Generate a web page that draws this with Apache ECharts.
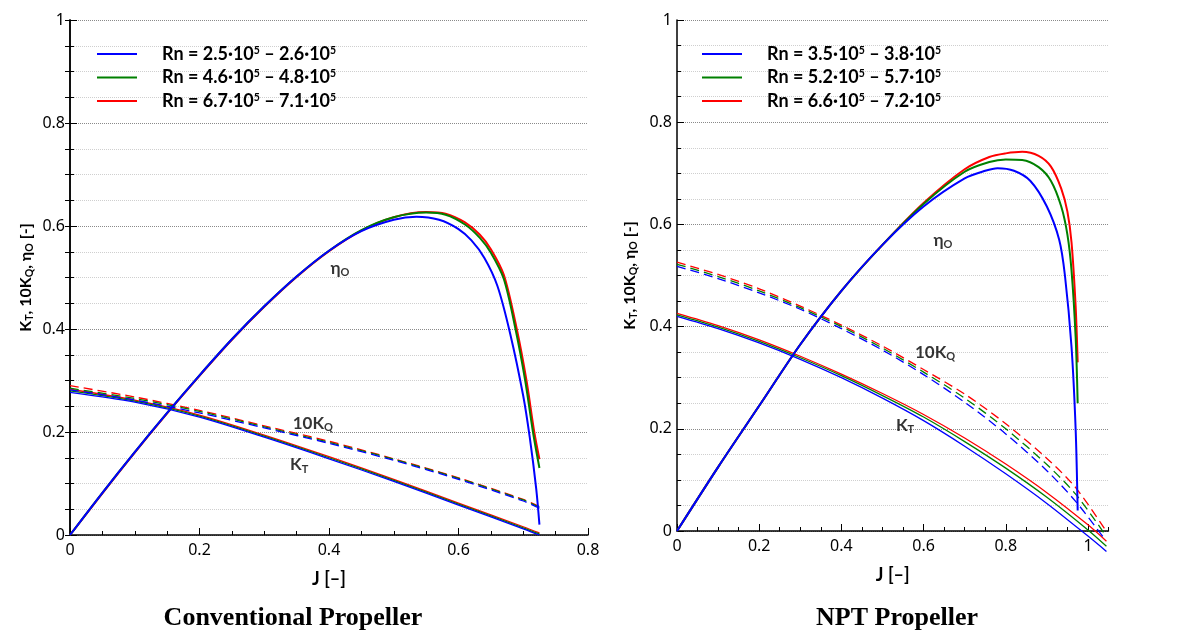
<!DOCTYPE html>
<html><head><meta charset="utf-8">
<script src="https://cdn.jsdelivr.net/npm/echarts@6/dist/echarts.min.js"></script>
<style>html,body{margin:0;padding:0;background:#fff}#c{width:1182px;height:632px}</style>
</head><body><div id="c"></div>
<script>
// ---------- DATA ----------
const colors = ['#ff0000', '#008000', '#0000ff']; // red, green, blue (blue drawn on top)

// Conventional propeller
const convNames = ['Rn = 6.7·10^5 – 7.1·10^5', 'Rn = 4.6·10^5 – 4.8·10^5', 'Rn = 2.5·10^5 – 2.6·10^5'];
const convLegendOrder = ['Rn = 2.5·10^5 – 2.6·10^5', 'Rn = 4.6·10^5 – 4.8·10^5', 'Rn = 6.7·10^5 – 7.1·10^5'];
const convJ = [0, 0.1, 0.2, 0.3, 0.4, 0.5, 0.6, 0.7, 0.725];
const convKT_red   = [0.283, 0.262, 0.233, 0.194, 0.152, 0.108, 0.062, 0.016, 0.004];
const convKT_green = [0.280, 0.260, 0.231, 0.192, 0.150, 0.106, 0.060, 0.014, 0.002];
const convKT_blue  = [0.277, 0.258, 0.229, 0.190, 0.148, 0.104, 0.058, 0.012, 0.000];
const convKQ_red   = [0.290, 0.268, 0.242, 0.212, 0.182, 0.148, 0.111, 0.069, 0.055];
const convKQ_green = [0.285, 0.265, 0.240, 0.210, 0.180, 0.147, 0.110, 0.068, 0.054];
const convKQ_blue  = [0.282, 0.262, 0.237, 0.208, 0.178, 0.145, 0.108, 0.066, 0.052];
const convEtaJ_red   = [0, 0.05, 0.1, 0.15, 0.2, 0.25, 0.3, 0.35, 0.4, 0.45, 0.5, 0.55, 0.58, 0.61, 0.633, 0.65, 0.67, 0.69, 0.705, 0.717, 0.725];
const convEta_red    = [0, 0.081, 0.160, 0.236, 0.309, 0.379, 0.443, 0.501, 0.551, 0.591, 0.617, 0.627, 0.624, 0.607, 0.583, 0.555, 0.505, 0.40, 0.30, 0.20, 0.147];
const convEtaJ_green = [0, 0.05, 0.1, 0.15, 0.2, 0.25, 0.3, 0.35, 0.4, 0.45, 0.5, 0.55, 0.58, 0.61, 0.633, 0.65, 0.67, 0.688, 0.703, 0.715, 0.725];
const convEta_green  = [0, 0.082, 0.161, 0.237, 0.310, 0.380, 0.444, 0.502, 0.552, 0.592, 0.617, 0.626, 0.622, 0.603, 0.577, 0.548, 0.497, 0.40, 0.30, 0.20, 0.13];
const convEtaJ_blue  = [0, 0.05, 0.1, 0.15, 0.2, 0.25, 0.3, 0.35, 0.4, 0.45, 0.5, 0.535, 0.57, 0.6, 0.62, 0.64, 0.66, 0.68, 0.70, 0.71, 0.72, 0.725];
const convEta_blue   = [0, 0.082, 0.161, 0.237, 0.310, 0.380, 0.444, 0.502, 0.552, 0.590, 0.612, 0.618, 0.612, 0.594, 0.572, 0.538, 0.484, 0.39, 0.27, 0.19, 0.09, 0.02];

// NPT propeller
const nptNames = ['Rn = 6.6·10^5 – 7.2·10^5', 'Rn = 5.2·10^5 – 5.7·10^5', 'Rn = 3.5·10^5 – 3.8·10^5'];
const nptLegendOrder = ['Rn = 3.5·10^5 – 3.8·10^5', 'Rn = 5.2·10^5 – 5.7·10^5', 'Rn = 6.6·10^5 – 7.2·10^5'];
const nptKTJ = [0, 0.1, 0.2, 0.3, 0.4, 0.5, 0.6, 0.7, 0.8, 0.9, 1.0, 1.045];
const nptKT_red   = [0.426, 0.402, 0.374, 0.342, 0.307, 0.269, 0.228, 0.182, 0.131, 0.075, 0.012, -0.02];
const nptKT_green = [0.423, 0.399, 0.371, 0.339, 0.304, 0.265, 0.223, 0.175, 0.123, 0.066, 0.002, -0.03];
const nptKT_blue  = [0.420, 0.396, 0.368, 0.336, 0.300, 0.260, 0.216, 0.166, 0.112, 0.054, -0.010, -0.04];
const nptKQJ = [0, 0.1, 0.2, 0.3, 0.4, 0.5, 0.6, 0.7, 0.8, 0.9, 0.97, 1.04];
const nptKQ_red   = [0.526, 0.502, 0.474, 0.440, 0.403, 0.362, 0.316, 0.268, 0.210, 0.142, 0.085, 0.005];
const nptKQ_green = [0.522, 0.498, 0.470, 0.437, 0.400, 0.358, 0.311, 0.260, 0.200, 0.130, 0.072, -0.005];
const nptKQ_blue  = [0.518, 0.494, 0.466, 0.434, 0.396, 0.354, 0.306, 0.252, 0.190, 0.118, 0.058, -0.015];
const nptEtaJ_red   = [0, 0.1, 0.2, 0.3, 0.4, 0.5, 0.6, 0.7, 0.76, 0.8, 0.84, 0.88, 0.91, 0.935, 0.95, 0.96, 0.97, 0.975];
const nptEta_red    = [0, 0.125, 0.245, 0.365, 0.47, 0.56, 0.642, 0.708, 0.732, 0.739, 0.742, 0.734, 0.713, 0.67, 0.625, 0.565, 0.44, 0.33];
const nptEtaJ_green = [0, 0.1, 0.2, 0.3, 0.4, 0.5, 0.6, 0.7, 0.76, 0.8, 0.84, 0.88, 0.91, 0.935, 0.95, 0.96, 0.97, 0.975];
const nptEta_green  = [0, 0.125, 0.245, 0.365, 0.47, 0.56, 0.640, 0.703, 0.722, 0.727, 0.726, 0.712, 0.685, 0.635, 0.58, 0.51, 0.38, 0.25];
const nptEtaJ_blue  = [0, 0.1, 0.2, 0.3, 0.4, 0.5, 0.6, 0.7, 0.75, 0.78, 0.82, 0.86, 0.9, 0.93, 0.944, 0.96, 0.97, 0.975];
const nptEta_blue   = [0, 0.125, 0.245, 0.365, 0.47, 0.56, 0.635, 0.69, 0.705, 0.71, 0.705, 0.685, 0.635, 0.57, 0.50, 0.36, 0.20, 0.04];

// Axis ticks
const xMajorConv = [0, 0.2, 0.4, 0.6, 0.8];
const xMajorNpt = [0, 0.2, 0.4, 0.6, 0.8, 1];
const xMaxConv = 0.8, xMaxNpt = 1.05;

// Curve annotations [J, value]
const convAnnoText = ['eta', 'kq', 'kt'];
const convAnnoJ = [0.417, 0.375, 0.354];
const convAnnoV = [0.518, 0.217, 0.136];
const nptAnnoText = ['eta', 'kq', 'kt'];
const nptAnnoJ = [0.647, 0.628, 0.555];
const nptAnnoV = [0.569, 0.350, 0.207];

// ---------- CHART ----------
const sans = '"Noto Sans", "DejaVu Sans", sans-serif';
const bold = 'Lato, "Noto Sans", sans-serif';
const pair = (J, V) => J.map((j, i) => [j, V[i]]);
const minors = (max) => { const a = []; for (let k = 1; k * 0.05 <= max + 1e-9; k++) { if (k % 4) a.push(+(k * 0.05).toFixed(2)); } return a; };

function lineSeries(name, data, color, xi, yi, kind) {
  return {
    type: 'line', name, data, xAxisIndex: xi, yAxisIndex: yi,
    showSymbol: false, symbol: 'none', smooth: 0.3, clip: false,
    itemStyle: { color }, silent: true,
    lineStyle: { color, width: kind === 'eta' ? 2 : 1.3, type: kind === 'kq' ? [9, 5] : 'solid' },
    z: 3
  };
}

const labelRich = {
  b: { fontFamily: bold, fontWeight: 'bold', fontSize: 17, color: '#000', lineHeight: 20 },
  s: { fontFamily: bold, fontWeight: 'bold', fontSize: 11, color: '#000', verticalAlign: 'bottom', lineHeight: 12 }
};
const axisNameRich = {
  b: { fontFamily: bold, fontWeight: 'bold', fontSize: 16, color: '#000', lineHeight: 19 },
  s: { fontFamily: bold, fontWeight: 'bold', fontSize: 10.5, color: '#000', verticalAlign: 'bottom', lineHeight: 11 }
};
const annoFmt = { eta: '{b|η}{s|O}', kq: '{b|10K}{s|Q}', kt: '{b|K}{s|T}' };

function annoSeries(texts, J, V, xi, yi) {
  return {
    type: 'scatter', xAxisIndex: xi, yAxisIndex: yi, symbolSize: 0, silent: true,
    data: texts.map((t, i) => ({ value: [J[i], V[i]], t })),
    label: { show: true, position: 'inside', formatter: p => annoFmt[p.data.t], rich: labelRich }, z: 5
  };
}

const series = [];
const convEtaJ = [convEtaJ_red, convEtaJ_green, convEtaJ_blue];
const convEta = [convEta_red, convEta_green, convEta_blue];
const convKT = [convKT_red, convKT_green, convKT_blue];
const convKQ = [convKQ_red, convKQ_green, convKQ_blue];
const nptEtaJ = [nptEtaJ_red, nptEtaJ_green, nptEtaJ_blue];
const nptEta = [nptEta_red, nptEta_green, nptEta_blue];
const nptKT = [nptKT_red, nptKT_green, nptKT_blue];
const nptKQ = [nptKQ_red, nptKQ_green, nptKQ_blue];
for (let c = 0; c < 3; c++) {
  series.push(lineSeries(convNames[c], pair(convEtaJ[c], convEta[c]), colors[c], 0, 0, 'eta'));
  series.push(lineSeries(convNames[c], pair(convJ, convKT[c]), colors[c], 0, 0, 'kt'));
  series.push(lineSeries(convNames[c], pair(convJ, convKQ[c]), colors[c], 0, 0, 'kq'));
  series.push(lineSeries(nptNames[c], pair(nptEtaJ[c], nptEta[c]), colors[c], 2, 2, 'eta'));
  series.push(lineSeries(nptNames[c], pair(nptKTJ, nptKT[c]), colors[c], 2, 2, 'kt'));
  series.push(lineSeries(nptNames[c], pair(nptKQJ, nptKQ[c]), colors[c], 2, 2, 'kq'));
}
series.push(annoSeries(convAnnoText, convAnnoJ, convAnnoV, 0, 0));
series.push(annoSeries(nptAnnoText, nptAnnoJ, nptAnnoV, 2, 2));

const yName = '{b|K}{s|T}{b|, 10K}{s|Q}{b|, η}{s|O}{b| [-]}';
function yMain(gi, gap) {
  return {
    gridIndex: gi, type: 'value', min: 0, max: 1, interval: 0.2,
    axisLine: { show: true, onZero: false, lineStyle: { color: '#000', width: 1.5 } },
    axisTick: { show: true, inside: true, length: 7, lineStyle: { color: '#000' } },
    minorTick: { show: true, splitNumber: 4, length: 4, lineStyle: { color: '#000' } },
    axisLabel: { color: '#000', fontSize: 16, fontFamily: sans, margin: 5 },
    splitLine: { show: true, lineStyle: { color: '#8a8a8a', type: 'dotted', width: 1 } },
    minorSplitLine: { show: true, lineStyle: { color: '#cfcfcf', type: 'dotted', width: 1 } },
    name: yName, nameLocation: 'middle', nameGap: gap, nameRotate: 90,
    nameTextStyle: { rich: axisNameRich }
  };
}
function xMain(gi, max, majors) {
  return {
    gridIndex: gi, type: 'value', min: 0, max,
    axisLine: { show: true, onZero: false, lineStyle: { color: '#000', width: 1.5 } },
    axisTick: { show: true, inside: true, length: 7, customValues: majors, lineStyle: { color: '#000' } },
    axisLabel: { color: '#000', fontSize: 16, fontFamily: sans, margin: 7, customValues: majors },
    splitLine: { show: false },
    name: 'J [–]', nameLocation: 'middle', nameGap: 35,
    nameTextStyle: { fontFamily: bold, fontWeight: 'bold', fontSize: 18, color: '#000' }
  };
}
function xMinor(gi, max) {
  return {
    gridIndex: gi, type: 'value', min: 0, max, position: 'bottom',
    axisLine: { show: false },
    axisTick: { show: true, inside: true, length: 4, customValues: minors(max), lineStyle: { color: '#000' } },
    axisLabel: { show: false }, splitLine: { show: false }
  };
}

function legendFmt(name) {
  const parts = name.split(/\^(\d)/);
  let s = '';
  parts.forEach((p, i) => { s += (i % 2 ? '{sup|' : (i === 0 ? '{n0|' : '{n|')) + p + '}'; });
  return s;
}
const legendRich = {
  n0: { fontFamily: bold, fontWeight: 'bold', fontSize: 18, color: '#000', lineHeight: 18, padding: [0, 0, 0, 20] },
  n: { fontFamily: bold, fontWeight: 'bold', fontSize: 18, color: '#000', lineHeight: 18 },
  sup: { fontFamily: bold, fontWeight: 'bold', fontSize: 10.5, color: '#000', verticalAlign: 'top', lineHeight: 9 }
};
function legend(data, left) {
  return {
    data, left, top: 40, orient: 'vertical', icon: 'rect', itemWidth: 40, itemHeight: 2, itemGap: 5.5,
    selectedMode: false, formatter: legendFmt, textStyle: { rich: legendRich }
  };
}

const titleFont = 'bold 26px "Liberation Serif", "Times New Roman", serif';
const option = {
  animation: false,
  backgroundColor: '#fff',
  grid: [
    { left: 70, top: 20, width: 518, height: 515 },
    { left: 677, top: 20, width: 431.5, height: 511 }
  ],
  xAxis: [xMain(0, xMaxConv, xMajorConv), xMinor(0, xMaxConv), xMain(1, xMaxNpt, xMajorNpt), xMinor(1, xMaxNpt)],
  yAxis: [
    yMain(0, 35),
    { gridIndex: 0, type: 'value', min: 0, max: 1, interval: 0.05, position: 'right',
      axisLine: { show: true, lineStyle: { color: '#000', width: 1.5 } },
      axisTick: { show: true, inside: true, length: 5, lineStyle: { color: '#000' } },
      axisLabel: { show: false }, splitLine: { show: false } },
    yMain(1, 38)
  ],
  legend: [legend(convLegendOrder, 92), legend(nptLegendOrder, 697)],
  graphic: [
    { type: 'text', x: 293, y: 618, style: { text: 'Conventional Propeller', font: titleFont, fill: '#000', textAlign: 'center', textVerticalAlign: 'middle' } },
    { type: 'text', x: 897, y: 618, style: { text: 'NPT Propeller', font: titleFont, fill: '#000', textAlign: 'center', textVerticalAlign: 'middle' } }
  ],
  series
};
const chart = echarts.init(document.getElementById('c'), null, { renderer: 'canvas' });
chart.setOption(option);
</script></body></html>
